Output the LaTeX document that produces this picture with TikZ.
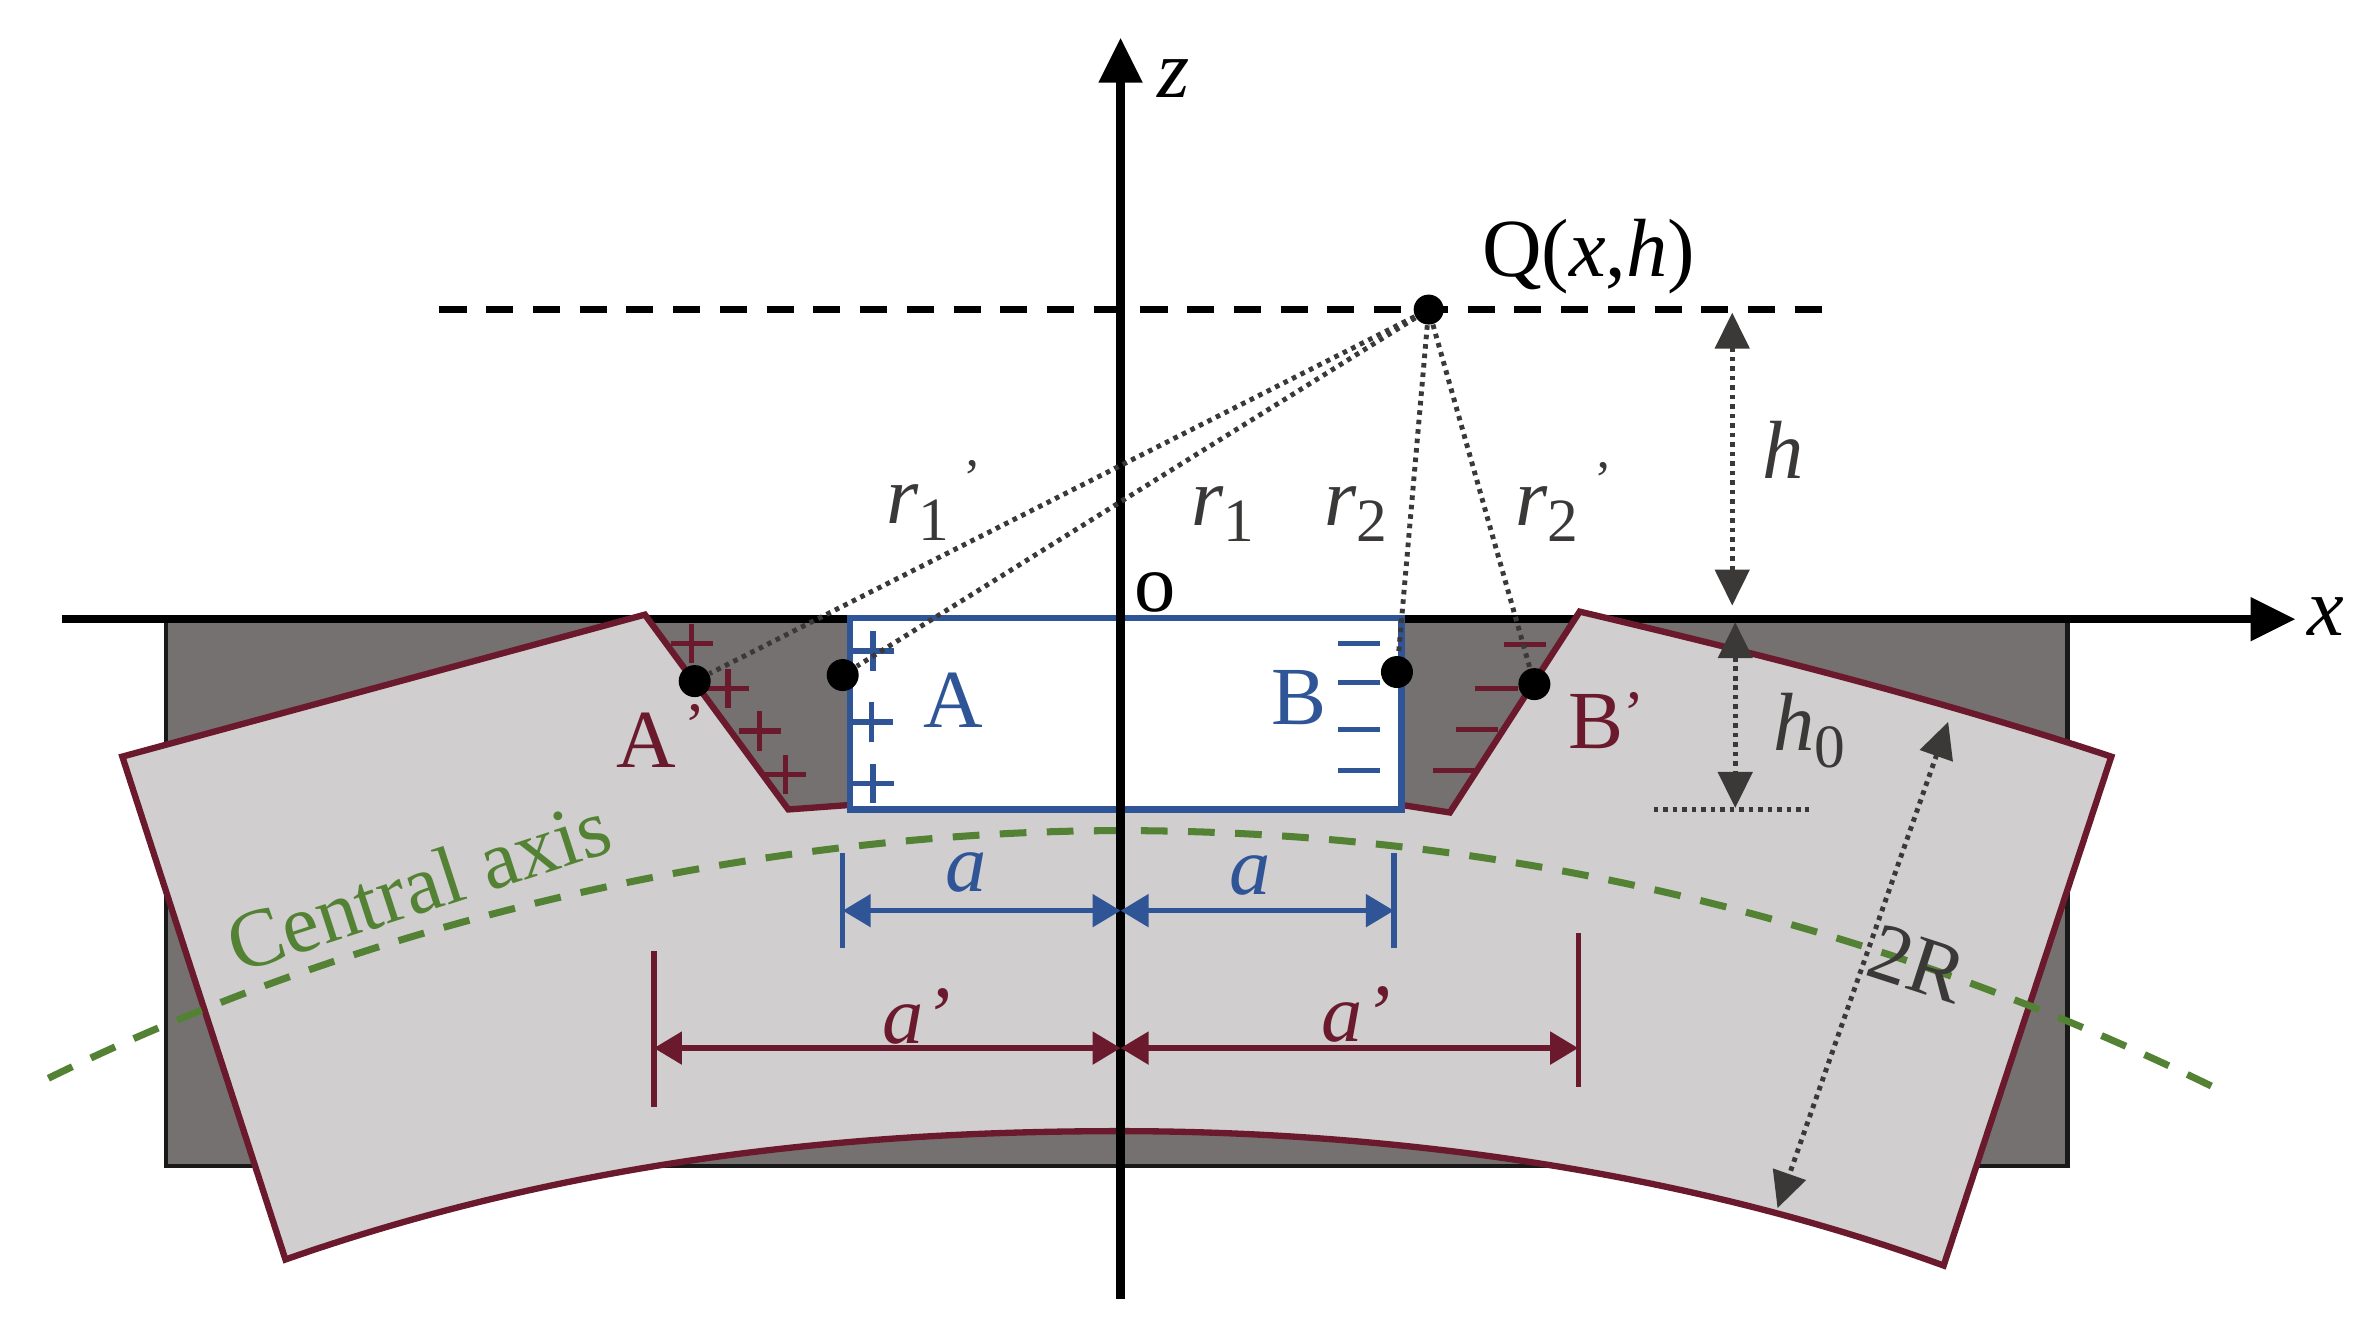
\documentclass[tikz,border=0pt]{standalone}
\usepackage{fontspec}
\setmainfont{Liberation Serif}
\usetikzlibrary{arrows.meta}
\definecolor{maroon}{HTML}{6B1A2E}
\definecolor{bluec}{HTML}{2F5597}
\definecolor{greenc}{HTML}{548235}
\definecolor{darkc}{HTML}{3B3838}
\definecolor{plate}{HTML}{767171}
\definecolor{body}{HTML}{D0CECE}
\newcommand{\sbs}[1]{\smash{\raisebox{-0.2em}{\fontsize{17.5}{20}\selectfont\upshape #1}}}
\newcommand{\prm}[1]{\rlap{\hspace{#1}\smash{\raisebox{8pt}{\fontsize{15}{18}\selectfont\upshape ’}}}}
\tikzset{
  lbl/.style={inner sep=0pt,font=\fontsize{23.5}{28}\selectfont},
  dotn/.style={circle,fill=black,inner sep=0pt,minimum size=0.32cm},
  rayline/.style={darkc,line width=1.4pt,dash pattern=on 1.3pt off 1.4pt},
  dimline/.style={darkc,line width=1.4pt,dash pattern=on 1.3pt off 1.4pt,{Triangle[length=0.36cm,width=0.34cm]}-{Triangle[length=0.36cm,width=0.34cm]}},
  axisline/.style={black,line width=2.4pt,-{Triangle[length=0.45cm,width=0.42cm]}},
  bluedim/.style={bluec,line width=1.5pt,{Triangle[length=0.28cm,width=0.32cm]}-{Triangle[length=0.28cm,width=0.32cm]}},
  reddim/.style={maroon,line width=1.5pt,{Triangle[length=0.28cm,width=0.32cm]}-{Triangle[length=0.28cm,width=0.32cm]}},
  tick/.style={line width=1.5pt},
  sign/.style={line width=1.5pt},
}
\begin{document}
\begin{tikzpicture}[x=0.0151cm,y=-0.0151cm]
\useasboundingbox (0,0) rectangle (1568,877);
% plate
\draw[fill=plate,draw=black!90,line width=1.3pt] (110,410) rectangle (1369,772);
% x axis under the body and the window
\coordinate (xs) at (41,410); \coordinate (xe) at (1520,410);
\draw[axisline] (xs) -- (xe);
% bent body
\draw[fill=body,draw=maroon,line width=1.8pt,line join=miter]
  (81,501) -- (427,407) -- (522,536) -- (563,533) -- (928,533) -- (960,538) -- (1046,405)
  .. controls (1160,432) and (1280,462) .. (1398,501) -- (1287,838)
  .. controls (1100,770) and (900,749) .. (742,749)
  .. controls (600,749) and (400,760) .. (189,834) -- cycle;
% window
\draw[fill=white,draw=bluec,line width=1.8pt] (563,409) rectangle (928,536);
% h line
\coordinate (hs) at (291,205); \coordinate (he) at (1207,205);
\draw[black,line width=2pt,dash pattern=on 7.7pt off 5.6pt] (hs) -- (he);
% signs
\foreach \x/\y in {578/431,577/478,578/519}{
  \draw[bluec,sign] (\x-14,\y) -- (\x+14,\y) (\x,\y-13) -- (\x,\y+13);}
\foreach \x/\y in {458/426,482/456,503/484,520/513}{
  \draw[maroon,sign] (\x-14,\y) -- (\x+14,\y) (\x,\y-13) -- (\x,\y+13);}
\foreach \x/\y in {900/426,900/452,900/483,900/510}{
  \draw[bluec,sign] (\x-14,\y) -- (\x+14,\y);}
\foreach \x/\y in {1010/427,991/456,978/483,963/510}{
  \draw[maroon,sign] (\x-14,\y) -- (\x+14,\y);}
% central axis
\coordinate (cs) at (32,714); \coordinate (ce) at (1466,720);
\draw[greenc,line width=2pt,dash pattern=on 7.6pt off 5.8pt]
  (cs) .. controls (285,590) and (550,550) .. (742,550) .. controls (950,550) and (1200,590) .. (ce);
% z axis
\coordinate (zs) at (742,860); \coordinate (ze) at (742,25);
\draw[axisline] (zs) -- (ze);
% points
\node[dotn,minimum size=0.3cm] (q) at (946,205) {};
\node[dotn] (a1) at (460,451) {};
\node[dotn] (a) at (558,447) {};
\node[dotn] (b) at (925,445) {};
\node[dotn] (b1) at (1016,453) {};
\draw[rayline] (q) -- (a1);
\draw[rayline] (q) -- (a);
\draw[rayline] (q) -- (b);
\draw[rayline] (q) -- (b1);
% dimensions dark
\coordinate (h1) at (1147,207); \coordinate (h2) at (1147,401);
\draw[dimline] (h1) -- (h2);
\coordinate (h3) at (1149,412); \coordinate (h4) at (1149,535);
\draw[dimline] (h3) -- (h4);
\coordinate (h5) at (1095,536); \coordinate (h6) at (1198,536);
\draw[rayline] (h5) -- (h6);
\coordinate (r1) at (1290,478); \coordinate (r2) at (1177,800);
\draw[dimline] (r1) -- (r2);
% blue a
\coordinate (t1a) at (558,565); \coordinate (t1b) at (558,628);
\coordinate (t2a) at (923,565); \coordinate (t2b) at (923,628);
\coordinate (m1) at (742,603); \coordinate (e1) at (558,603); \coordinate (e2) at (923,603);
\draw[bluec,tick] (t1a) -- (t1b);
\draw[bluec,tick] (t2a) -- (t2b);
\draw[bluedim] (e1) -- (m1);
\draw[bluedim] (m1) -- (e2);
% maroon a'
\coordinate (t3a) at (433,630); \coordinate (t3b) at (433,733);
\coordinate (t4a) at (1045,618); \coordinate (t4b) at (1045,720);
\coordinate (m2) at (742,694); \coordinate (e3) at (433,694); \coordinate (e4) at (1045,694);
\draw[maroon,tick] (t3a) -- (t3b);
\draw[maroon,tick] (t4a) -- (t4b);
\draw[reddim] (e3) -- (m2);
\draw[reddim] (m2) -- (e4);
% labels
\node[lbl] (lz) at (777,52) {\itshape z};
\node[lbl] (lx) at (1540,408) {\itshape x};
\node[lbl] (lo) at (765,392) {o};
\node[lbl] (lq) at (1052,170) {Q(\textit{x},\textit{h})};
\node[lbl,text=darkc] (lr1p) at (608,334) {\itshape r\sbs{1}\prm{0.17em}};
\node[lbl,text=darkc] (lr1) at (810,335) {\itshape r\sbs{1}};
\node[lbl,text=darkc] (lr2) at (898,335) {\itshape r\sbs{2}};
\node[lbl,text=darkc] (lr2p) at (1024,335) {\itshape r\sbs{2}\prm{0.2em}};
\node[lbl,text=darkc] (lh) at (1181,298) {\itshape h};
\node[lbl,text=darkc] (lh0) at (1198,478) {\itshape h\sbs{0}};
\node[lbl,text=bluec] (la) at (631,464) {A};
\node[lbl,text=bluec] (lb) at (860,462) {B};
\node[lbl,text=maroon] (lap) at (428,490) {A\rlap{\hspace{0.1em}\smash{\raisebox{6pt}{\fontsize{18}{20}\selectfont ’}}}};
\node[lbl,text=maroon] (lbp) at (1057,478) {B\rlap{\smash{\raisebox{4pt}{\fontsize{18}{20}\selectfont ’}}}};
\node[lbl,text=bluec] (l1) at (640,578) {\itshape a};
\node[lbl,text=bluec] (l2) at (828,580) {\itshape a};
\node[lbl,text=maroon] (l3) at (607,673) {\itshape a’};
\node[lbl,text=maroon] (l4) at (898,672) {\itshape a’};
\node[lbl,text=greenc,rotate=18] (lc) at (277,586) {Central axis};
\node[lbl,text=darkc,rotate=-18] (l2r) at (1270,638) {2R};
\end{tikzpicture}
\end{document}
